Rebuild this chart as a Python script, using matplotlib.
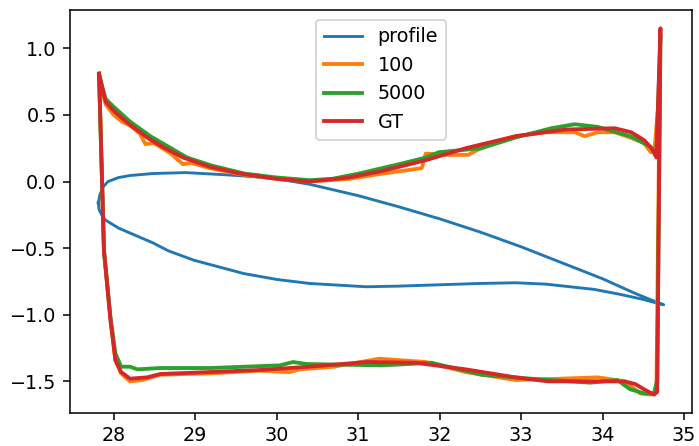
import matplotlib
matplotlib.use("Agg")
import matplotlib.pyplot as plt

# ---- airfoil profile (closed: upper LE->TE, lower TE->LE) ----
profile_upper_x = [27.81, 27.83, 27.87, 27.93, 28.06, 28.20, 28.48, 28.88, 29.39, 29.70, 30.00,
                   30.40, 31.00, 31.50, 32.00, 32.50, 33.00, 33.50, 34.00, 34.40, 34.68, 34.75]
profile_upper_y = [-0.16, -0.10, -0.04, 0.00, 0.03, 0.045, 0.06, 0.067, 0.05, 0.037, 0.02,
                   -0.02, -0.106, -0.19, -0.28, -0.38, -0.49, -0.61, -0.73, -0.84, -0.91, -0.925]
profile_lower_x = [34.75, 34.68, 34.50, 34.20, 33.90, 33.60, 33.30, 32.93, 32.50, 32.00, 31.50,
                   31.10, 30.40, 30.00, 29.59, 28.98, 28.67, 28.48, 28.06, 27.90, 27.86, 27.82, 27.81]
profile_lower_y = [-0.925, -0.915, -0.885, -0.845, -0.81, -0.79, -0.77, -0.76, -0.765, -0.775, -0.785,
                   -0.79, -0.765, -0.735, -0.69, -0.59, -0.52, -0.46, -0.35, -0.29, -0.26, -0.21, -0.16]

# ---- GT ----
gt_x = [27.82, 27.86, 27.90, 28.00, 28.17, 28.41, 28.60, 28.85, 29.18, 29.55, 30.00, 30.40,
        30.89, 31.30, 31.83, 32.32, 32.93, 33.54, 34.15, 34.35, 34.51, 34.60, 34.66, 34.71,
        34.67, 34.63, 34.51, 34.40, 34.27, 33.94, 33.33, 32.93, 32.32, 31.70, 31.10, 30.40,
        29.79, 29.18, 28.57, 28.41, 28.20, 28.09, 28.02, 27.96, 27.88, 27.82]
gt_y = [0.81, 0.70, 0.60, 0.53, 0.44, 0.33, 0.26, 0.18, 0.11, 0.06, 0.02, 0.00,
        0.03, 0.08, 0.16, 0.25, 0.34, 0.39, 0.40, 0.37, 0.31, 0.25, 0.18, 1.15,
        -1.58, -1.60, -1.56, -1.52, -1.50, -1.50, -1.50, -1.47, -1.41, -1.36, -1.355, -1.39,
        -1.415, -1.43, -1.445, -1.47, -1.48, -1.43, -1.34, -1.04, -0.52, 0.81]

# ---- 100 ----
n100_x = [27.82, 27.86, 27.90, 28.00, 28.10, 28.20, 28.32, 28.39, 28.49, 28.70, 28.85, 28.95,
          29.18, 29.55, 30.00, 30.40, 30.89, 31.30, 31.78, 31.83, 32.10, 32.35, 32.60, 32.93,
          33.30, 33.66, 33.78, 33.94, 34.15, 34.34, 34.51, 34.59, 34.64, 34.70,
          34.66, 34.59, 34.46, 34.27, 33.94, 33.49, 32.93, 32.32, 31.83, 31.26, 30.70, 30.28,
          30.16, 29.79, 29.18, 28.57, 28.35, 28.20, 28.09, 28.02, 27.96, 27.88, 27.82]
n100_y = [0.79, 0.68, 0.58, 0.50, 0.45, 0.42, 0.36, 0.28, 0.29, 0.21, 0.13, 0.14,
          0.10, 0.055, 0.02, 0.00, 0.02, 0.06, 0.10, 0.21, 0.20, 0.20, 0.28, 0.34,
          0.37, 0.37, 0.34, 0.37, 0.37, 0.33, 0.29, 0.22, 0.26, 0.70,
          -1.58, -1.60, -1.59, -1.50, -1.47, -1.48, -1.49, -1.43, -1.355, -1.33, -1.39, -1.41,
          -1.43, -1.42, -1.44, -1.45, -1.49, -1.50, -1.44, -1.34, -1.04, -0.52, 0.79]

# ---- 5000 ----
n5000_x = [27.82, 27.86, 27.90, 28.00, 28.20, 28.45, 28.90, 29.20, 29.60, 30.00, 30.40, 30.68,
           31.01, 31.50, 31.83, 31.99, 32.51, 32.93, 33.37, 33.66, 33.94, 34.34, 34.59, 34.66,
           34.71, 34.67, 34.63, 34.51, 34.34, 34.18, 33.85, 33.12, 32.51, 31.90, 31.30, 30.37,
           30.20, 30.04, 29.18, 28.57, 28.29, 28.20, 28.09, 28.02, 27.96, 27.88, 27.82]
n5000_y = [0.80, 0.71, 0.62, 0.56, 0.45, 0.34, 0.18, 0.12, 0.06, 0.03, 0.01, 0.02,
           0.06, 0.13, 0.18, 0.22, 0.25, 0.33, 0.40, 0.43, 0.41, 0.34, 0.26, 0.20,
           1.10, -1.49, -1.59, -1.59, -1.56, -1.49, -1.51, -1.48, -1.45, -1.36, -1.38, -1.37,
           -1.355, -1.38, -1.40, -1.40, -1.41, -1.39, -1.39, -1.29, -1.02, -0.52, 0.80]

labels = ["profile", "100", "5000", "GT"]

fig = plt.figure(figsize=(699 / 138, 446 / 138), dpi=138)
ax = fig.add_axes([70 / 699, 33 / 446, 622 / 699, 403 / 446])

ax.plot(profile_upper_x + profile_lower_x, profile_upper_y + profile_lower_y,
        color="C0", lw=1.5, label=labels[0])
ax.plot(n100_x, n100_y, color="C1", lw=2, label=labels[1])
ax.plot(n5000_x, n5000_y, color="C2", lw=2, label=labels[2])
ax.plot(gt_x, gt_y, color="C3", lw=2, label=labels[3])

ax.legend(loc="upper center")
fig.savefig("out.png", dpi=138)
